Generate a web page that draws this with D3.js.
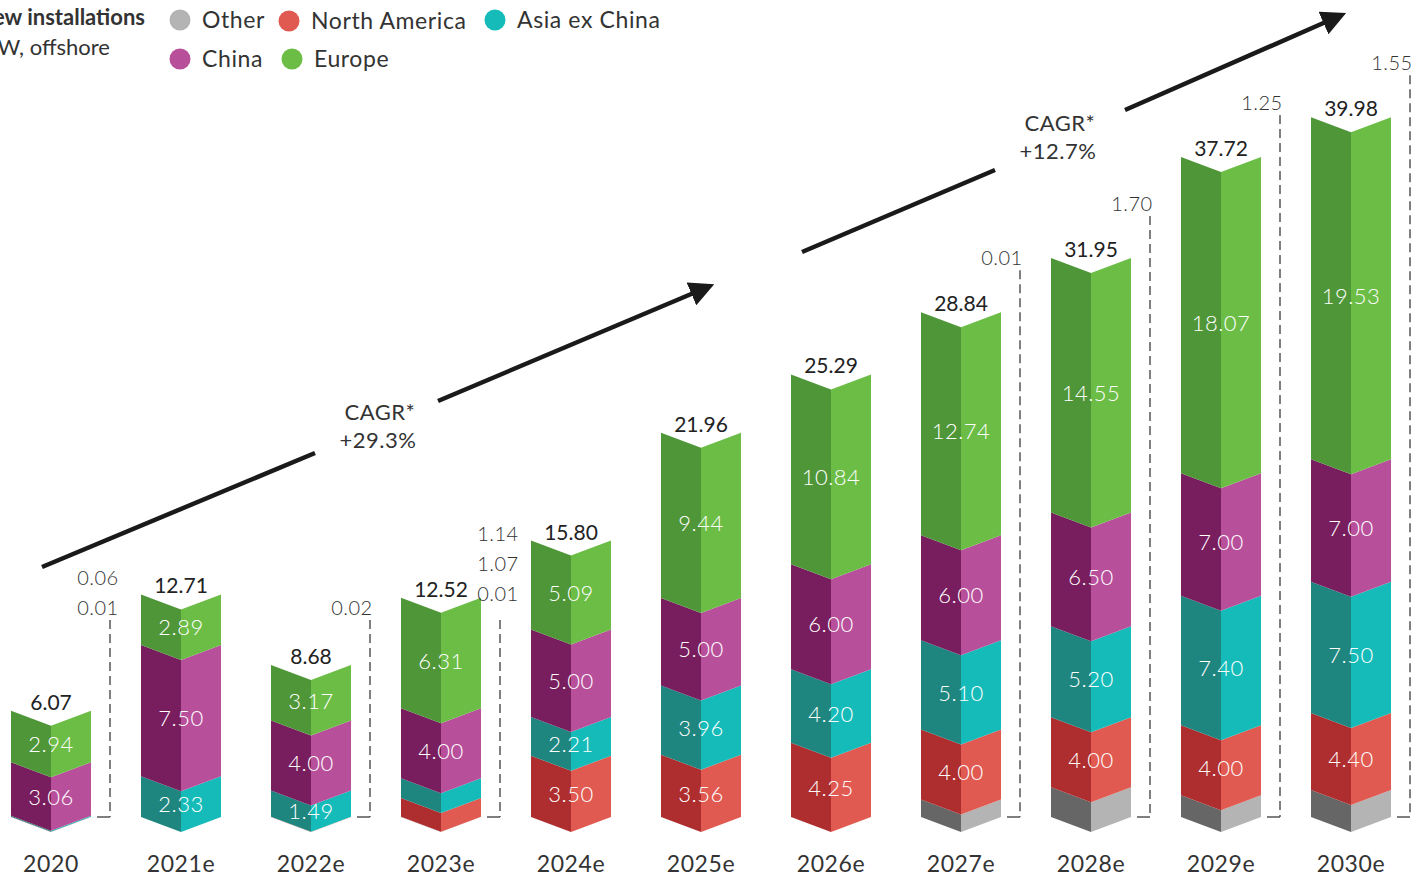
<!DOCTYPE html>
<html>
<head>
<meta charset="utf-8">
<script src="https://cdn.jsdelivr.net/npm/d3@7"></script>
<style>
  body { margin: 0; background: #fff; }
  svg { display: block; font-family: "Century Gothic", Lato, "Noto Sans", sans-serif; }
</style>
</head>
<body>
<div id="chart"></div>
<script>
// Offshore wind, new installations in GW by region
const years = ["2020", "2021e", "2022e", "2023e", "2024e", "2025e", "2026e", "2027e", "2028e", "2029e", "2030e"];
const other        = [0,    0,    0,    0.01, 0,    0,    0,     1.00,  1.70,  1.25,  1.55];
const northAmerica = [0.01, 0,    0.02, 1.07, 3.50, 3.56, 4.25,  4.00,  4.00,  4.00,  4.40];
const asiaExChina  = [0.06, 2.33, 1.49, 1.14, 2.21, 3.96, 4.20,  5.10,  5.20,  7.40,  7.50];
const china        = [3.06, 7.50, 4.00, 4.00, 5.00, 5.00, 6.00,  6.00,  6.50,  7.00,  7.00];
const europe       = [2.94, 2.89, 3.17, 6.31, 5.09, 9.44, 10.84, 12.74, 14.55, 18.07, 19.53];
const totals = ["6.07", "12.71", "8.68", "12.52", "15.80", "21.96", "25.29", "28.84", "31.95", "37.72", "39.98"];
// small values written beside the bars (top to bottom)
const notes = [["0.06", "0.01"], [], ["0.02"], ["1.14", "1.07", "0.01"], [], [], [], ["0.01"], ["1.70"], ["1.25"], ["1.55"]];
const cagrs = ["+29.3%", "+12.7%"];

const series = [
    {name: "Other", values: other, dark: "#666666", light: "#b4b4b4"},
    {name: "North America", values: northAmerica, dark: "#ae2e2f", light: "#e05a52"},
    {name: "Asia ex China", values: asiaExChina, dark: "#1f867f", light: "#14bbb8"},
    {name: "China", values: china, dark: "#781e5e", light: "#b84f9b"},
    {name: "Europe", values: europe, dark: "#4f9638", light: "#6bbd46"}
];

const width = 1414;
const height = 876;
const half = 40;   // half bar width
const notch = 15;  // depth of the chevron

const svg = d3.select("#chart").append("svg")
    .attr("width", width)
    .attr("height", height);

const x = d3.scalePoint().domain(years).range([51, 1351]);
const y = d3.scaleLinear().domain([0, 40]).range([817, 117]);

// build stacked segments
const segs = [];
years.forEach((yr, i) => {
    let cum = 0;
    series.forEach(s => {
        const v = s.values[i];
        if (v > 0) segs.push({year: yr, s: s, v: v, y0: cum, y1: cum + v});
        cum += v;
    });
});

const bars = svg.append("g");
const face = (d, side) => {
    const cx = x(d.year), t = y(d.y1), b = y(d.y0);
    const ex = side === "left" ? cx - half : cx + half;
    return [[ex, t], [cx, t + notch], [cx, b + notch], [ex, b]].map(p => p.join(",")).join(" ");
};
bars.selectAll("polygon.l").data(segs).join("polygon")
    .attr("class", "l")
    .attr("points", d => face(d, "left"))
    .attr("fill", d => d.s.dark);
bars.selectAll("polygon.r").data(segs).join("polygon")
    .attr("class", "r")
    .attr("points", d => face(d, "right"))
    .attr("fill", d => d.s.light);

// values inside segments
bars.selectAll("text.seg").data(segs.filter(d => d.s.name !== "Other" && d.v >= 1.3)).join("text")
    .attr("class", "seg")
    .attr("x", d => x(d.year))
    .attr("y", d => (y(d.y0) + y(d.y1)) / 2 + 8)
    .attr("dy", "0.35em")
    .attr("text-anchor", "middle")
    .attr("fill", "#fff")
    .attr("font-size", 22)
    .attr("font-weight", 300)
    .attr("letter-spacing", 0.5)
    .text(d => d.v.toFixed(2));

// totals above bars
const sum = i => series.reduce((a, s) => a + s.values[i], 0);
svg.append("g").selectAll("text").data(years).join("text")
    .attr("x", d => x(d))
    .attr("y", (d, i) => y(sum(i)) - 1)
    .attr("text-anchor", "middle")
    .attr("fill", "#222")
    .attr("font-size", 21)
    .text((d, i) => totals[i]);

// category labels
svg.append("g").selectAll("text").data(years).join("text")
    .attr("x", d => x(d))
    .attr("y", 872)
    .attr("text-anchor", "middle")
    .attr("fill", "#333")
    .attr("font-size", 23)
    .attr("letter-spacing", 0.6)
    .text(d => d);

// dashed callouts for small values
const callouts = svg.append("g");
years.forEach((yr, i) => {
    if (!notes[i].length) return;
    const top = y(sum(i));
    const lx = x(yr) + half + 19;
    const lineTop = top > 560 ? 620 : top - 42;
    // keep clear of the total label when the line starts beside it
    const dx = lineTop - top > -30 ? -2 : (notes[i].length > 1 ? -12 : -18);
    callouts.append("line")
        .attr("x1", lx).attr("x2", lx)
        .attr("y1", lineTop).attr("y2", y(0))
        .attr("stroke", "#555").attr("stroke-width", 1.5)
        .attr("stroke-dasharray", "9,5");
    callouts.append("line")
        .attr("x1", lx - 13).attr("x2", lx)
        .attr("y1", y(0)).attr("y2", y(0))
        .attr("stroke", "#555").attr("stroke-width", 1.5);
    callouts.selectAll(null).data(notes[i].slice().reverse()).join("text")
        .attr("x", lx + dx)
        .attr("y", (d, k) => lineTop - (dx === -2 ? 19 : 5) - k * 30)
        .attr("text-anchor", "middle")
        .attr("fill", "#333")
        .attr("font-size", 20)
        .attr("font-weight", 300)
        .attr("letter-spacing", 0.5)
        .text(d => d);
});

// CAGR arrows
svg.append("defs").append("marker")
    .attr("id", "head")
    .attr("viewBox", "0 0 10 10")
    .attr("refX", 2).attr("refY", 5)
    .attr("markerWidth", 5.5).attr("markerHeight", 5.5)
    .attr("orient", "auto")
    .append("path").attr("d", "M0,0 L10,5 L0,10 z").attr("fill", "#1a1a1a");

const arrows = [
    {from: [42, 567], to: [696, 292], gap: [[315, 453], [438, 401]], label: [378, 412]},
    {from: [802, 252], to: [1328, 21], gap: [[995, 170], [1125, 110]], label: [1058, 123]}
];
arrows.forEach((a, i) => {
    svg.append("line")
        .attr("x1", a.from[0]).attr("y1", a.from[1])
        .attr("x2", a.gap[0][0]).attr("y2", a.gap[0][1])
        .attr("stroke", "#1a1a1a").attr("stroke-width", 4.5);
    svg.append("line")
        .attr("x1", a.gap[1][0]).attr("y1", a.gap[1][1])
        .attr("x2", a.to[0]).attr("y2", a.to[1])
        .attr("stroke", "#1a1a1a").attr("stroke-width", 4.5)
        .attr("marker-end", "url(#head)");
    const t = svg.append("text")
        .attr("text-anchor", "middle")
        .attr("fill", "#333")
        .attr("font-size", 22)
        .attr("letter-spacing", 0.5);
    t.append("tspan").attr("x", a.label[0] + 2).attr("y", a.label[1] + 8).text("CAGR*");
    t.append("tspan").attr("x", a.label[0]).attr("y", a.label[1] + 36).text(cagrs[i]);
});

// title (cut off at the left edge as in the original)
svg.append("text")
    .attr("x", 145).attr("y", 25)
    .attr("text-anchor", "end")
    .attr("font-size", 22).attr("font-weight", "bold").attr("fill", "#333")
    .text("New installations");
svg.append("text")
    .attr("x", 110).attr("y", 55)
    .attr("text-anchor", "end")
    .attr("font-size", 22).attr("fill", "#333")
    .text("GW, offshore");

// legend
const legendItems = [
    {s: series[0], x: 180, y: 20},
    {s: series[1], x: 289, y: 21},
    {s: series[2], x: 495, y: 20},
    {s: series[3], x: 180, y: 59},
    {s: series[4], x: 292, y: 59}
];
const lg = svg.append("g").selectAll("g").data(legendItems).join("g")
    .attr("transform", d => `translate(${d.x},${d.y})`);
lg.append("circle").attr("r", 10.5).attr("fill", d => d.s.light);
lg.append("text")
    .attr("x", 22).attr("dy", "0.35em")
    .attr("font-size", 23).attr("fill", "#333")
    .attr("letter-spacing", 0.6)
    .text(d => d.s.name);
</script>
</body>
</html>
